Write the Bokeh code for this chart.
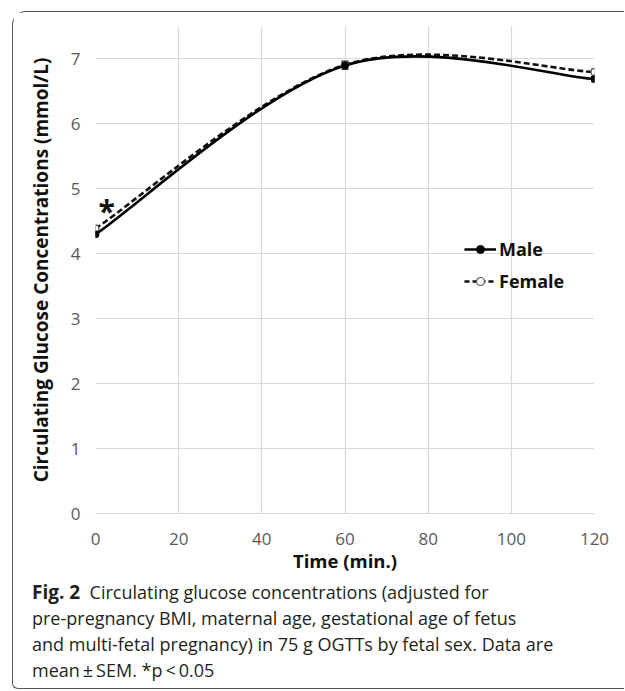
import numpy as np
from bokeh.plotting import figure
from bokeh.models import (ColumnDataSource, Legend, LegendItem, Label, Whisker,
                          Div, FixedTicker, Range1d)
from bokeh.layouts import column
from bokeh.embed import file_html
from bokeh.resources import INLINE

# ---- data ----
time_min = [0, 60, 120]
male = [4.30, 6.90, 6.69]
female = [4.39, 6.91, 6.80]
male_sem = [0.03, 0.06, 0.04]
female_sem = [0.03, 0.06, 0.04]
x_ticks = [0, 20, 40, 60, 80, 100, 120]
y_ticks = [0, 1, 2, 3, 4, 5, 6, 7]
caption_lines = [
    "Circulating glucose concentrations (adjusted for",
    "pre-pregnancy BMI, maternal age, gestational age of fetus",
    "and multi-fetal pregnancy) in 75 g OGTTs by fetal sex. Data are",
    "mean\u2009\u00b1\u2009SEM. *p\u2009<\u20090.05",
]

FONT = "Open Sans"
TICK_COLOR = "#595959"
GRID = "#d9d9d9"


def smooth_segments(xs, ys):
    """Excel-like smoothed line: cubic Bezier segments (Catmull-Rom, 1/6)."""
    xs = np.asarray(xs, float)
    ys = np.asarray(ys, float)
    n = len(xs)
    seg = dict(x0=[], y0=[], x1=[], y1=[], cx0=[], cy0=[], cx1=[], cy1=[])
    for i in range(n - 1):
        pm = i - 1 if i > 0 else i
        pp = i + 2 if i + 2 < n else i + 1
        seg["x0"].append(xs[i]); seg["y0"].append(ys[i])
        seg["x1"].append(xs[i + 1]); seg["y1"].append(ys[i + 1])
        seg["cx0"].append(xs[i] + (xs[i + 1] - xs[pm]) / 6)
        seg["cy0"].append(ys[i] + (ys[i + 1] - ys[pm]) / 6)
        seg["cx1"].append(xs[i + 1] - (xs[pp] - xs[i]) / 6)
        seg["cy1"].append(ys[i + 1] - (ys[pp] - ys[i]) / 6)
    return ColumnDataSource(seg)


p = figure(width=611, height=565, output_backend="svg", toolbar_location=None,
           x_range=Range1d(0, 120), y_range=Range1d(0, 7.5),
           min_border_left=82, min_border_right=30, min_border_top=14,
           min_border_bottom=64)
p.outline_line_color = None
p.background_fill_color = "white"
p.border_fill_color = "white"

# grids
p.xgrid.ticker = FixedTicker(ticks=x_ticks)
p.ygrid.ticker = FixedTicker(ticks=y_ticks)
p.grid.grid_line_color = GRID
p.grid.grid_line_width = 1.2

# axes
p.xaxis.ticker = FixedTicker(ticks=x_ticks)
p.yaxis.ticker = FixedTicker(ticks=y_ticks)
for ax in (p.xaxis[0], p.yaxis[0]):
    ax.major_tick_line_color = None
    ax.minor_tick_line_color = None
    ax.major_label_text_font = FONT
    ax.major_label_text_font_size = "17px"
    ax.major_label_text_color = TICK_COLOR
    ax.axis_label_text_font = FONT
    ax.axis_label_text_font_style = "bold"
    ax.axis_label_text_font_size = "18.5px"
    ax.axis_label_text_color = "#111111"
p.yaxis.axis_label_text_font_size = "19px"
p.xaxis.axis_line_color = GRID
p.xaxis.axis_line_width = 1.2
p.yaxis.axis_line_color = None
p.xaxis.major_label_standoff = 13
p.yaxis.major_label_standoff = 9
p.xaxis.axis_label = "Time (min.)"
p.yaxis.axis_label = "Circulating Glucose Concentrations (mmol/L)"
p.xaxis.axis_label_standoff = 0
p.yaxis.axis_label_standoff = 14

# error bars
for vals, sem, col in ((male, male_sem, "#111111"), (female, female_sem, "#555555")):
    src = ColumnDataSource(dict(x=time_min,
                                lo=[v - s for v, s in zip(vals, sem)],
                                hi=[v + s for v, s in zip(vals, sem)]))
    w = Whisker(source=src, base="x", lower="lo", upper="hi",
                line_color=col, line_width=1)
    w.upper_head.size = 7
    w.lower_head.size = 7
    w.upper_head.line_color = col
    w.lower_head.line_color = col
    p.add_layout(w)

# smoothed lines
fem_line = p.bezier(source=smooth_segments(time_min, female), x0="x0", y0="y0",
                    x1="x1", y1="y1", cx0="cx0", cy0="cy0", cx1="cx1", cy1="cy1",
                    line_color="#111111", line_width=2.6, line_dash="6 3")
male_line = p.bezier(source=smooth_segments(time_min, male), x0="x0", y0="y0",
                     x1="x1", y1="y1", cx0="cx0", cy0="cy0", cx1="cx1", cy1="cy1",
                     line_color="#000000", line_width=2.6)

# markers
fem_pts = p.scatter(time_min, female, size=7, marker="circle",
                    fill_color="white", line_color="#555555", line_width=1.2)
male_pts = p.scatter(time_min, male, size=7, marker="circle",
                     fill_color="black", line_color="black")

# legend proxy glyphs (line + marker)
leg_m_line = p.line([0, 1], [-10, -10], line_color="black", line_width=2.6)
leg_f_line = p.line([0, 1], [-10, -10], line_color="#111111", line_width=2.6,
                    line_dash="5 3")
legend = Legend(items=[LegendItem(label="Male", renderers=[leg_m_line, male_pts]),
                       LegendItem(label="Female", renderers=[leg_f_line, fem_pts])],
                location=(369, 220), orientation="vertical")
legend.glyph_width = 32
legend.glyph_height = 20
legend.spacing = 8
legend.padding = 0
legend.margin = 0
legend.label_standoff = 3
legend.label_text_font = FONT
legend.label_text_font_style = "bold"
legend.label_text_font_size = "18px"
legend.label_text_color = "#111111"
legend.background_fill_alpha = 0
legend.border_line_color = None
p.add_layout(legend, "center")

# significance asterisk at the first time point
p.add_layout(Label(x=time_min[0], y=female[0], text="*", x_offset=3, y_offset=-3,
                   text_font=FONT, text_font_style="bold", text_font_size="30px",
                   text_color="#111111"))

caption_html = ("<span style='font-weight:bold;font-size:19px'>Fig. 2</span>"
                "&nbsp;&nbsp;" + "<br>".join(caption_lines))
cap = Div(text=caption_html, width=600, height=104,
          styles={"font-family": "'Open Sans', sans-serif", "font-size": "18px",
                  "line-height": "26px", "color": "#231f20",
                  "padding-left": "14px", "margin-top": "2px"})

layout = column(p, cap, spacing=0,
                styles={"margin-left": "12px", "margin-top": "11px",
                        "border-left": "1.6px solid #555555",
                        "border-top": "1.6px solid #555555",
                        "border-bottom": "1.6px solid #555555",
                        "border-top-left-radius": "14px",
                        "border-bottom-left-radius": "6px"})

open("out.html", "w").write(file_html(layout, INLINE))
